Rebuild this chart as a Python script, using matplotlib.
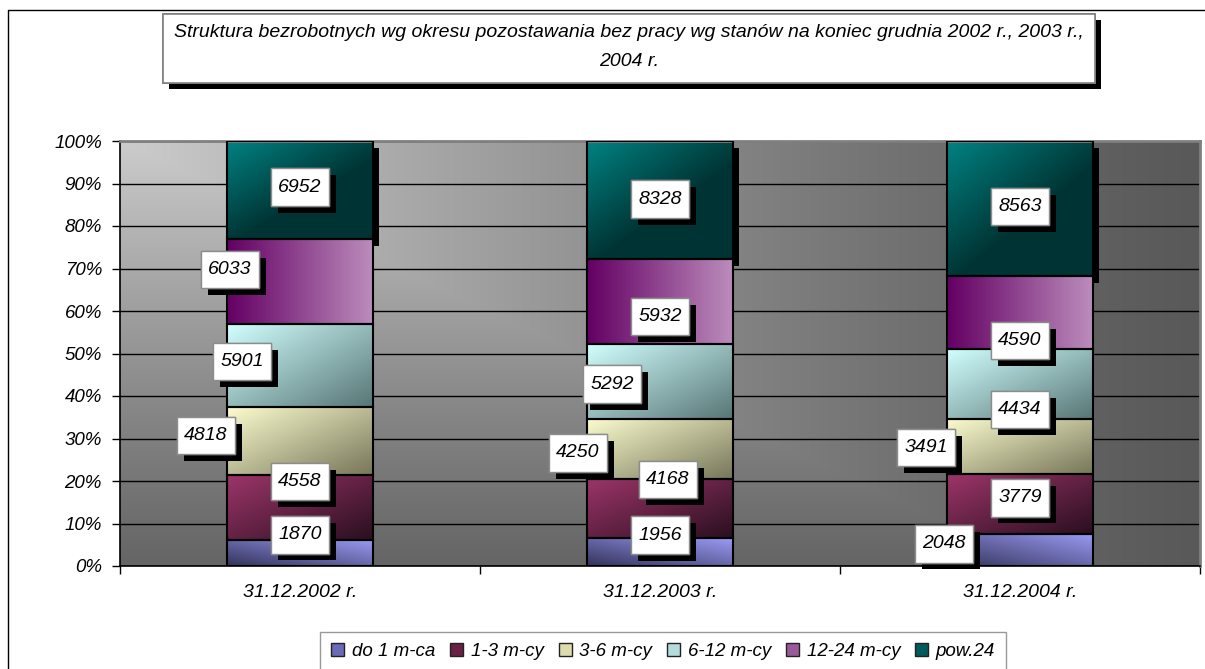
import numpy as np
import matplotlib
matplotlib.use('Agg')
import matplotlib.pyplot as plt
from matplotlib.patches import Rectangle, Patch
from matplotlib.lines import Line2D
from matplotlib.transforms import offset_copy
import matplotlib.patheffects as pe

plt.rcParams['font.family'] = ['Liberation Sans', 'DejaVu Sans']
plt.rcParams['font.style'] = 'italic'

# data
dates = ['31.12.2002 r.', '31.12.2003 r.', '31.12.2004 r.']
series = ['do 1 m-ca', '1-3 m-cy', '3-6 m-cy', '6-12 m-cy', '12-24 m-cy', 'pow.24']
do_1 = [1870, 1956, 2048]
m_1_3 = [4558, 4168, 3779]
m_3_6 = [4818, 4250, 3491]
m_6_12 = [5901, 5292, 4434]
m_12_24 = [6033, 5932, 4590]
pow_24 = [6952, 8328, 8563]
values = [do_1, m_1_3, m_3_6, m_6_12, m_12_24, pow_24]
title = ('Struktura bezrobotnych wg okresu pozostawania bez pracy wg stanów na koniec grudnia 2002 r., 2003 r.,\n'
         '2004 r.')

# gradient styles: (start colour, end colour, direction)
grads = [('#34345c', '#9a9af4', 'up'),
         ('#9c3569', '#2a0f1f', 'diag'),
         ('#fcfccf', '#77775a', 'diag'),
         ('#d2ffff', '#587676', 'diag'),
         ('#640064', '#bb8cbb', 'h'),
         ('#008282', '#003434', 'diag2')]
legend_cols = ['#6a6ab8', '#6a1f45', '#dcdcae', '#b4dcdc', '#9a5a9a', '#005a5a']

# label offsets in pixels from segment middle (per series, per date)
offsets = [[(0, 18), (0, 17), (-76, 6)],
           [(0, 26), (8, 29), (0, 6)],
           [(-94, 6), (-82, -4), (-94, -1)],
           [(-58, 4), (-48, -3), (0, -26)],
           [(-70, 12), (0, -15), (0, -28)],
           [(0, 3), (0, 1), (0, 2)]]

W, H = 1205, 669
fig = plt.figure(figsize=(W / 100, H / 100), dpi=100)
fig.patch.set_facecolor('white')
ax = fig.add_axes([120 / W, 1 - 566 / H, 1080 / W, 425 / H])

# background gradient (from top-left corner)
n = 200
u = np.linspace(0, 1, n)[None, :]
v = np.linspace(0, 1, n)[:, None]
m = np.maximum(u, v * 0.85)
g = 0.35 + 0.45 * (1 - m) ** 1.2
ax.imshow(np.dstack([g, g, g]), extent=(0, 1, 0, 1), transform=ax.transAxes,
          aspect='auto', zorder=0, interpolation='bilinear')

totals = np.sum(values, axis=0)
pct = [np.array(s) / totals * 100 for s in values]
x = np.arange(len(dates))
bw = 0.405


def grad_img(c0, c1, mode, k=64):
    c0 = np.array(matplotlib.colors.to_rgb(c0))
    c1 = np.array(matplotlib.colors.to_rgb(c1))
    uu = np.linspace(0, 1, k)[None, :]
    vv = np.linspace(0, 1, k)[:, None]
    if mode == 'h':
        t = uu + 0 * vv
    elif mode == 'up':
        t = (uu + (1 - vv)) / 2
    elif mode == 'diag2':
        t = np.clip((uu * 1.3 + vv * 1.5) / 1.6, 0, 1)
    else:
        t = (uu + vv) / 2
    return c0 + (c1 - c0) * t[..., None]


bottom = np.zeros(len(dates))
for i, p in enumerate(pct):
    if i == len(pct) - 1:
        sh = ax.bar(x, p, bw, bottom=bottom, color='black', zorder=1.5, lw=0)
        tr = offset_copy(ax.transData, fig=fig, x=6, y=-7, units='dots')
        for r in sh:
            r.set_transform(tr)
    bars = ax.bar(x, p, bw, bottom=bottom, facecolor='none', edgecolor='black',
                  lw=1.5, zorder=3)
    c0, c1, mode = grads[i]
    for r in bars:
        ax.imshow(grad_img(c0, c1, mode),
                  extent=(r.get_x(), r.get_x() + r.get_width(), r.get_y(), r.get_y() + r.get_height()),
                  aspect='auto', zorder=2, interpolation='bilinear')
    for j in range(len(dates)):
        ann = ax.annotate(str(values[i][j]), xy=(x[j], bottom[j] + p[j] / 2),
                          xytext=offsets[i][j], textcoords='offset pixels',
                          ha='center', va='center', fontsize=14, zorder=6,
                          bbox=dict(boxstyle='square,pad=0.35', fc='white', ec='#8c8c8c',
                                    lw=1, mutation_aspect=1.5))
        ann.get_bbox_patch().set_path_effects(
            [pe.withSimplePatchShadow(offset=(5, -5), shadow_rgbFace='black', alpha=1.0), pe.Normal()])
    bottom = bottom + p

ax.set_xlim(-0.5, 2.5)
ax.set_ylim(0, 100)
ax.set_yticks(np.arange(0, 101, 10))
ax.set_yticklabels([f'{t}%' for t in range(0, 101, 10)], fontsize=13.5)
ax.yaxis.grid(True, color='black', lw=1)
ax.set_axisbelow(True)
ax.tick_params(axis='y', direction='out', length=6, width=1, pad=7)
ax.set_xticks([-0.5, 0.5, 1.5, 2.5])
ax.set_xticklabels([])
ax.set_xticks(x, minor=True)
ax.set_xticklabels(dates, minor=True, fontsize=14)
ax.tick_params(axis='x', which='major', direction='out', length=6, width=1)
ax.tick_params(axis='x', which='minor', length=0, pad=13)
for s in ['top', 'right']:
    ax.spines[s].set_color('#808080')
    ax.spines[s].set_linewidth(2)
for s in ['left', 'bottom']:
    ax.spines[s].set_color('black')
    ax.spines[s].set_linewidth(1.2)

# outer chart border
fig.add_artist(Line2D([8 / W, 8 / W, 1], [0, 1 - 10 / H, 1 - 10 / H],
                      transform=fig.transFigure, color='black', lw=1))

# title box
tb = Rectangle((163 / W, 1 - 83 / H), (1095 - 163) / W, 69 / H, transform=fig.transFigure,
               fc='white', ec='#808080', lw=1.2, zorder=2)
tb.set_path_effects([pe.withSimplePatchShadow(offset=(4.5, -4.5), shadow_rgbFace='black', alpha=1.0),
                     pe.Normal()])
fig.add_artist(tb)
fig.text(629 / W, 1 - 47 / H, title, ha='center', va='center', fontsize=14,
         linespacing=1.85, zorder=3)

# legend
handles = [Patch(facecolor=c, edgecolor='#222222', lw=1) for c in legend_cols]
leg = fig.legend(handles, series, loc='upper left', bbox_to_anchor=(320 / W, 1 - 632 / H),
                 ncol=6, fontsize=13.5, frameon=True, fancybox=False, edgecolor='#808080',
                 handlelength=0.7, handleheight=0.7, handletextpad=0.4, columnspacing=0.8,
                 borderpad=0.6, borderaxespad=0)
leg.get_frame().set_linewidth(1)

fig.savefig('out.png', dpi=100, facecolor='white')
